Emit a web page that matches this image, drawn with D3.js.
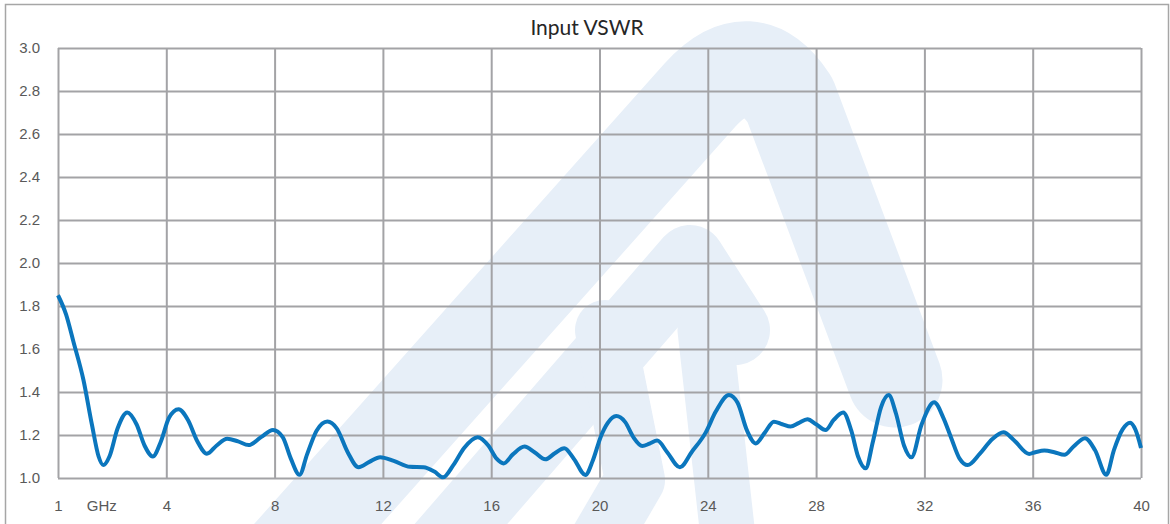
<!DOCTYPE html>
<html lang="en">
<head>
    <meta charset="UTF-8">
    <title>Input VSWR</title>
    <style>
        body {
            margin: 0;
            padding: 0;
            background-color: #fff;
            font-family: 'Lato', 'Open Sans', sans-serif;
        }
        .grid line, .grid path {
            stroke: #a3a3a6;
            stroke-width: 2;
        }
        .tick text {
            fill: #595959;
            font-size: 15px;
        }
    </style>
    <script src="https://d3js.org/d3.v7.min.js"></script>
</head>
<body>
<div id="chart"></div>
<script>
    const freq = [0, 0.3, 0.57, 0.94, 1.25, 1.5, 1.67, 1.9, 2.2, 2.56, 2.9, 3.2, 3.5, 3.8, 4.1, 4.45, 4.8, 5.15, 5.5, 5.85,
        6.25, 6.65, 7.04, 7.5, 7.94, 8.3, 8.6, 8.92, 9.2, 9.55, 9.95, 10.3, 10.7, 11.1, 11.5, 11.9, 12.4, 13.0, 13.5, 13.9,
        14.22, 14.6, 15.0, 15.5, 15.9, 16.2, 16.46, 16.8, 17.23, 17.6, 18.0, 18.35, 18.7, 19.05, 19.48, 19.75, 20.04, 20.3,
        20.62, 20.95, 21.25, 21.58, 21.85, 22.13, 22.5, 22.97, 23.4, 23.92, 24.3, 24.78, 25.1, 25.45, 25.77, 26.1, 26.44,
        26.75, 27.06, 27.35, 27.68, 28.0, 28.35, 28.65, 29.0, 29.3, 29.55, 29.83, 30.1, 30.4, 30.68, 30.95, 31.25, 31.52,
        31.9, 32.36, 32.7, 32.98, 33.3, 33.6, 34.05, 34.5, 34.92, 35.3, 35.87, 36.1, 36.43, 36.8, 37.17, 37.5, 37.93, 38.3,
        38.72, 39.0, 39.32, 39.6, 39.8, 40.0];
    const vswr = [1.85, 1.76, 1.634, 1.456, 1.25, 1.10, 1.06, 1.10, 1.23, 1.305, 1.25, 1.15, 1.10, 1.17, 1.28, 1.32, 1.27, 1.17, 1.113, 1.15,
        1.183, 1.17, 1.153, 1.19, 1.223, 1.19, 1.09, 1.015, 1.11, 1.22, 1.263, 1.23, 1.12, 1.05, 1.075, 1.097, 1.08, 1.052, 1.05, 1.03,
        1.003, 1.06, 1.14, 1.19, 1.15, 1.09, 1.068, 1.11, 1.146, 1.12, 1.087, 1.115, 1.138, 1.09, 1.014, 1.08, 1.19, 1.255,
        1.288, 1.26, 1.19, 1.149, 1.16, 1.174, 1.12, 1.05, 1.12, 1.211, 1.31, 1.386, 1.35, 1.22, 1.161, 1.21, 1.262,
        1.25, 1.239, 1.255, 1.273, 1.25, 1.223, 1.27, 1.305, 1.22, 1.10, 1.045, 1.17, 1.33, 1.386, 1.30, 1.15, 1.096,
        1.25, 1.352, 1.28, 1.19, 1.09, 1.06, 1.113, 1.18, 1.213, 1.177, 1.112, 1.12, 1.128, 1.12, 1.108, 1.145, 1.185, 1.13,
        1.015, 1.13, 1.226, 1.257, 1.223, 1.14];

    const xTickPos = [0, 1.6, 4, 8, 12, 16, 20, 24, 28, 32, 36, 40];
    const xTickLabels = ["1", "GHz", "4", "8", "12", "16", "20", "24", "28", "32", "36", "40"];
    const xGrid = [0, 4, 8, 12, 16, 20, 24, 28, 32, 36, 40];
    const yTicks = [1.0, 1.2, 1.4, 1.6, 1.8, 2.0, 2.2, 2.4, 2.6, 2.8, 3.0];

    const width = 1170, height = 524;
    const margin = {top: 48, right: 29, bottom: 46, left: 58};
    const w = width - margin.left - margin.right;
    const h = height - margin.top - margin.bottom;

    const svg = d3.select("#chart").append("svg")
        .attr("width", width)
        .attr("height", height);

    // faint logo watermark behind the plot
    const wm = svg.append("g")
        .attr("fill", "none")
        .attr("stroke", "#e7eff8")
        .attr("stroke-linejoin", "round")
        .attr("stroke-linecap", "round");
    wm.append("path").attr("stroke-width", 95)
        .attr("d", "M250,600 L700,95 Q750,40 790,100 L895,380");
    wm.append("path").attr("stroke-width", 70)
        .attr("d", "M395,600 L690,260 L735,330");
    wm.append("path").attr("stroke-width", 60)
        .attr("d", "M565,600 L635,480 L605,330");
    wm.append("path").attr("stroke-width", 55)
        .attr("d", "M735,600 L705,330");

    // outer frame
    svg.append("rect")
        .attr("x", 5.5).attr("y", 4.5)
        .attr("width", 1163).attr("height", 540)
        .attr("fill", "none")
        .attr("stroke", "#a6a6a6")
        .attr("stroke-width", 1.5);

    const g = svg.append("g")
        .attr("transform", "translate(" + margin.left + "," + margin.top + ")");

    const x = d3.scaleLinear().domain([0, 40]).range([0, w]);
    const y = d3.scaleLinear().domain([1.0, 3.0]).range([h, 0]);

    // grid
    g.append("g").attr("class", "grid")
        .attr("transform", "translate(0," + h + ")")
        .call(d3.axisBottom(x).tickValues(xGrid).tickSize(-h).tickFormat(""))
        .call(s => s.select(".domain").remove());
    g.append("g").attr("class", "grid")
        .call(d3.axisLeft(y).tickValues(yTicks).tickSize(-w).tickFormat(""))
        .call(s => s.select(".domain").remove());

    // tick labels
    g.append("g")
        .attr("transform", "translate(0," + h + ")")
        .call(d3.axisBottom(x).tickValues(xTickPos).tickSize(0).tickPadding(22)
            .tickFormat((d, i) => xTickLabels[i]))
        .call(s => s.select(".domain").remove());
    g.append("g")
        .call(d3.axisLeft(y).tickValues(yTicks).tickSize(0).tickPadding(18)
            .tickFormat(d3.format(".1f")))
        .call(s => s.select(".domain").remove());

    // curve
    const data = freq.map((f, i) => ({f: f, v: vswr[i]}));
    const line = d3.line()
        .x(d => x(d.f))
        .y(d => y(d.v))
        .curve(d3.curveMonotoneX);

    g.append("path")
        .datum(data)
        .attr("fill", "none")
        .attr("stroke", "#0b76bd")
        .attr("stroke-width", 4)
        .attr("stroke-linejoin", "round")
        .attr("d", line);

    // title
    svg.append("text")
        .attr("x", 587).attr("y", 35)
        .attr("text-anchor", "middle")
        .attr("fill", "#262626")
        .attr("font-size", "21px")
        .text("Input VSWR");
</script>
</body>
</html>
